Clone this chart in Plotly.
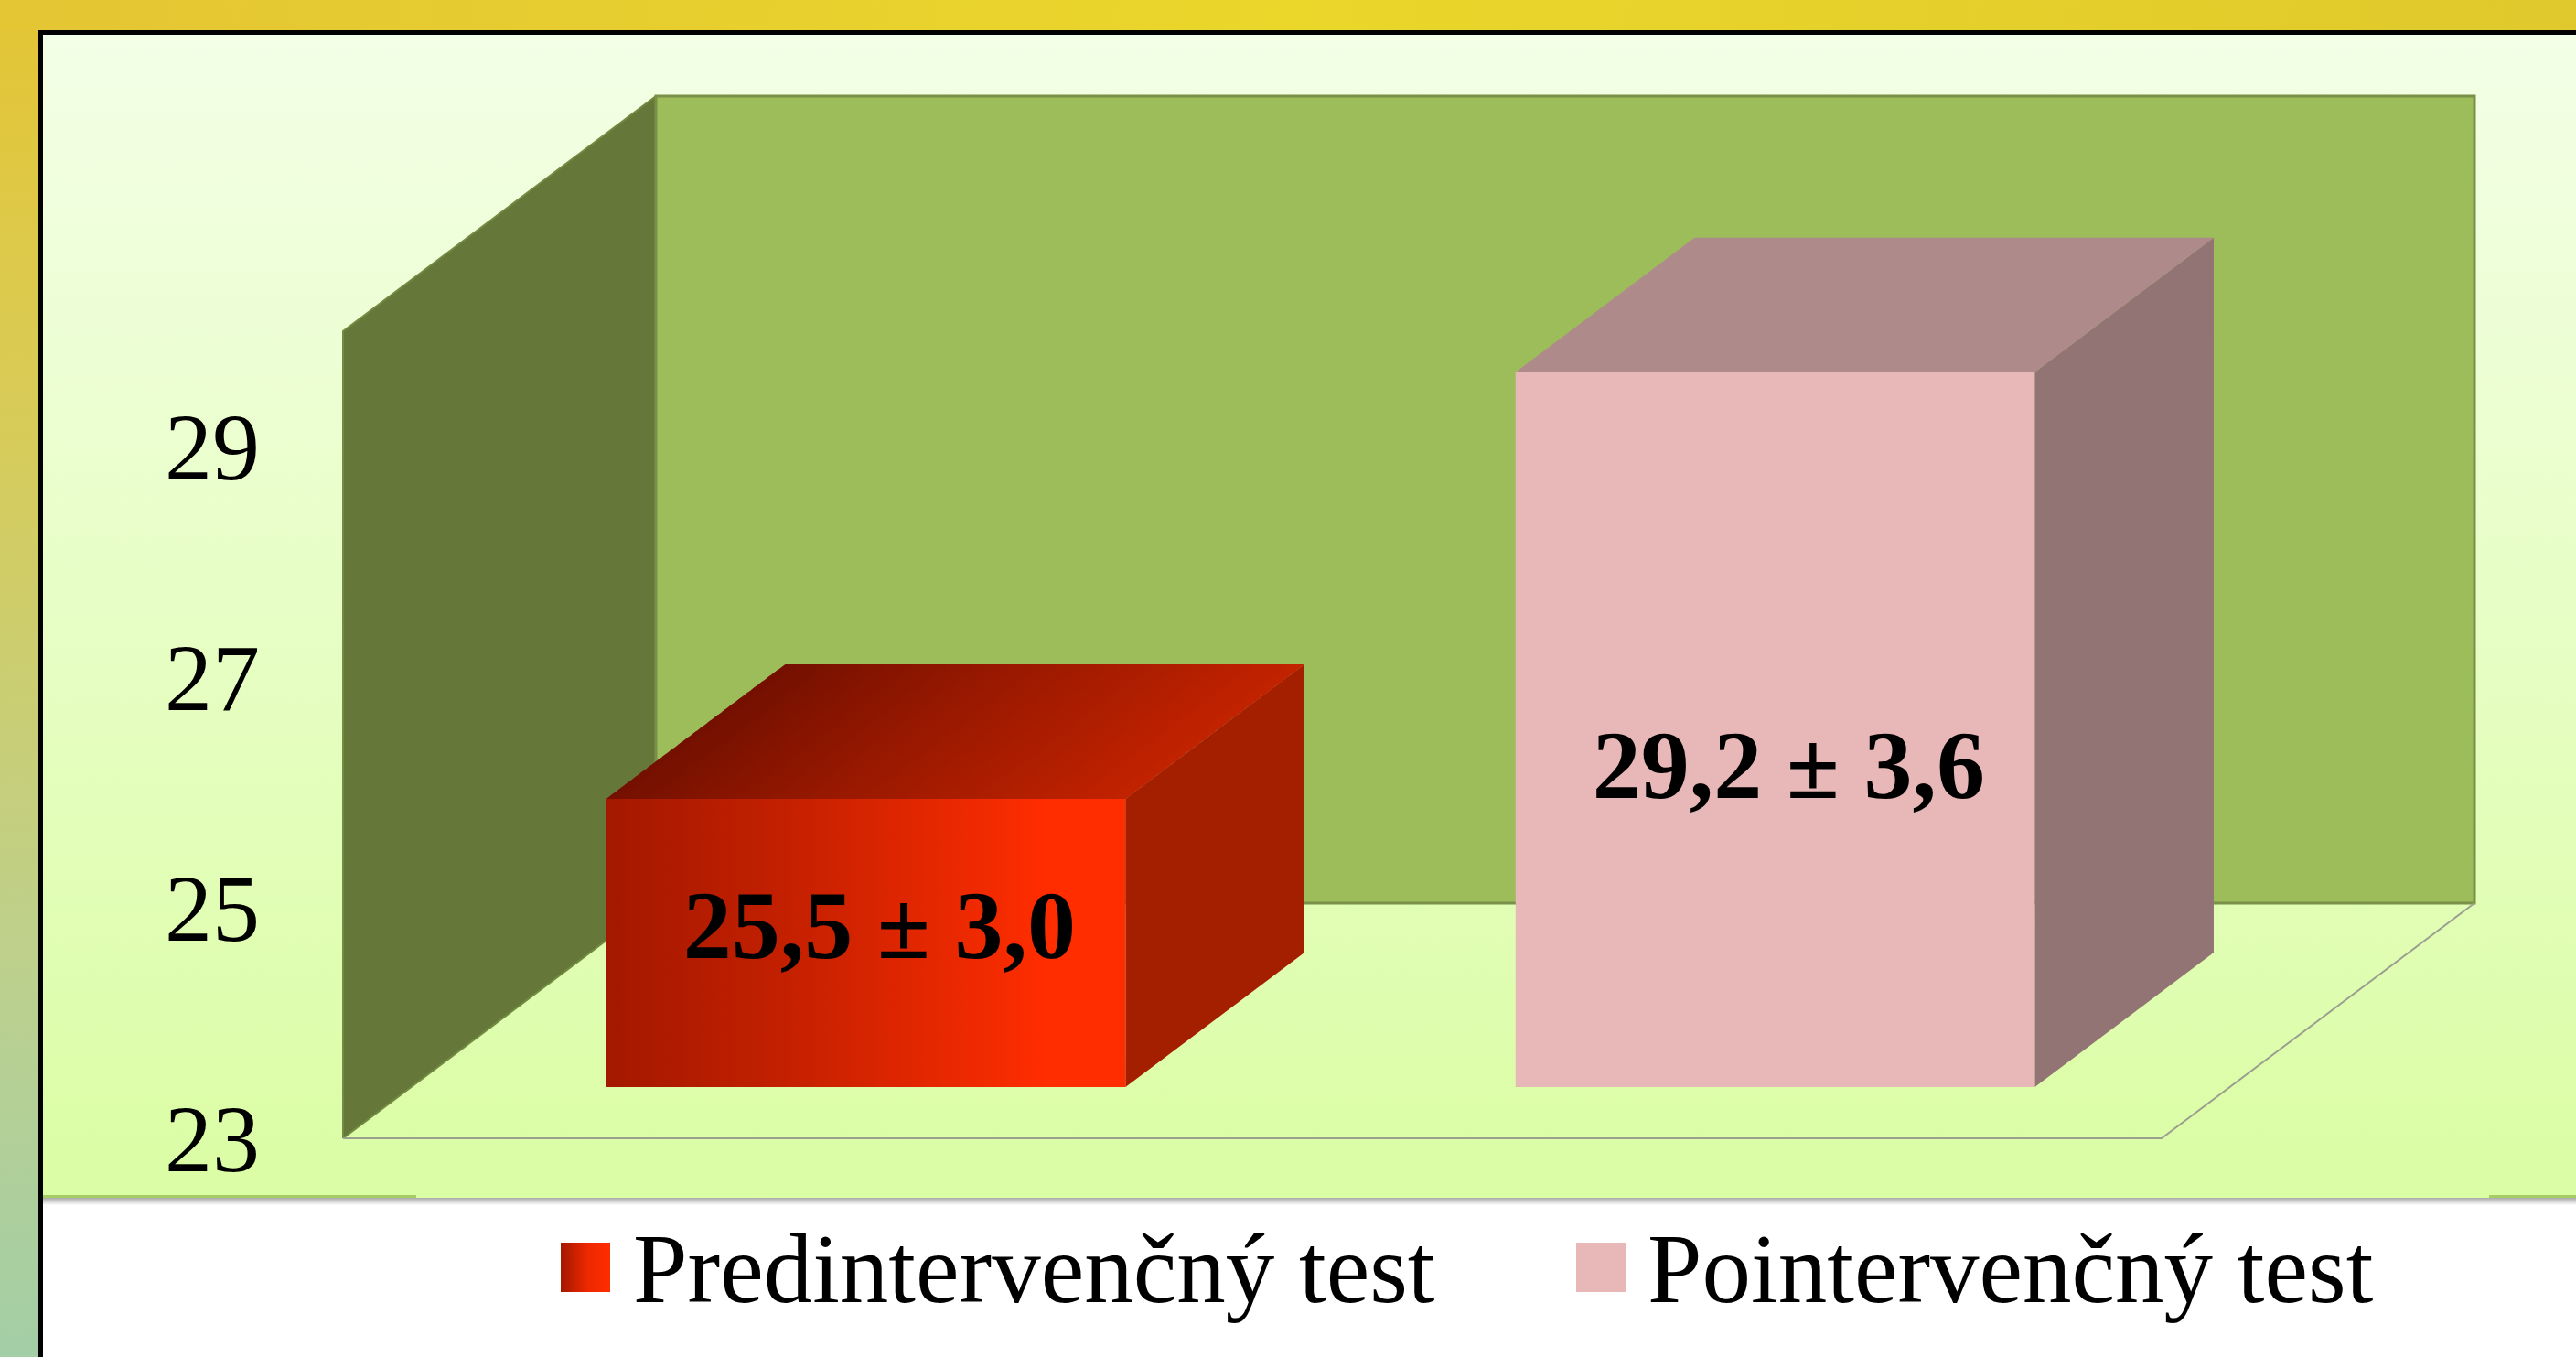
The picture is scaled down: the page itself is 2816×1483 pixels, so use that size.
import plotly.graph_objects as go

# ---- data ----
series_names = ["Predintervenčný test", "Pointervenčný test"]
values = [25.5, 29.2]
value_labels = ["25,5 ± 3,0", "29,2 ± 3,6"]
label_levels = [24.77, 26.16]
tick_values = [23, 25, 27, 29]
tick_labels = ["23", "25", "27", "29"]
axis_min = 23
axis_max = 30

# ---- oblique projection of the 3-D box chart ----
W, H = 2816, 1483
SLOT_PX, UNIT_PX = 994.0, 126.0
X0_PX, Y0_PX = 375, 1244          # where (category edge, axis_min) falls
DX, DY = 342 / SLOT_PX, 257 / UNIT_PX
BAR_W = 0.571
D_NEAR, D_FAR = 0.218, 0.79
SERIF = "Liberation Serif"

x_lo = -0.5 - X0_PX / SLOT_PX
x_hi = x_lo + W / SLOT_PX
y_hi = axis_min + Y0_PX / UNIT_PX
y_lo = y_hi - H / UNIT_PX


def proj(x, v, d):
    return x + d * DX, v + d * DY


fig = go.Figure()


def deco(xs, ys, color=None, grad=None):
    kw = dict(x=xs, y=ys, mode="lines", line=dict(width=0), fill="toself",
              hoverinfo="skip", showlegend=False, xaxis="x", yaxis="y")
    if grad:
        kw["fillgradient"] = grad
    else:
        kw["fillcolor"] = color
    fig.add_trace(go.Scatter(**kw))


def rect(x0, y0, x1, y1, color=None, grad=None):
    deco([x0, x1, x1, x0, x0], [y0, y0, y1, y1, y0], color, grad)


def face(pts, color=None, grad=None, edge=None, edge_w=0):
    xs = [p[0] for p in pts] + [pts[0][0]]
    ys = [p[1] for p in pts] + [pts[0][1]]
    kw = dict(x=xs, y=ys, mode="lines", fill="toself", hoverinfo="skip",
              showlegend=False, xaxis="x2", yaxis="y2",
              line=dict(width=edge_w, color=edge or "rgba(0,0,0,0)"))
    if grad:
        kw["fillgradient"] = grad
    else:
        kw["fillcolor"] = color
    fig.add_trace(go.Scatter(**kw))


# page frame and panels
rect(0, 0, W, H, "#ffffff")
rect(0, 0, 42, H, grad=dict(type="vertical", start=0, stop=H, colorscale=[
    [0, "#e4c534"], [0.28, "#d9cb55"], [0.72, "#bcd08e"], [1, "#a3cea6"]]))
rect(0, 0, W, 33, grad=dict(type="horizontal", start=0, stop=W, colorscale=[
    [0, "#e4c534"], [0.5, "#ead72a"], [1, "#dfc92c"]]))
rect(42, 33, W, 38, "#000000")
rect(42, 33, 47, H, "#000000")
rect(47, 38, W, 1309, grad=dict(type="vertical", start=38, stop=1309, colorscale=[
    [0, "#f3ffe6"], [1, "#dbfda4"]]))
rect(47, 1309, W, 1317, grad=dict(type="vertical", start=1309, stop=1317, colorscale=[
    [0, "#a9a9a9"], [1, "#ffffff"]]))
rect(47, 1306, 455, 1309, "#a6cc64")
rect(2721, 1306, W, 1309, "#a6cc64")

# chart walls and floor
n = len(values)
L, R = -0.5, n - 0.5
TOP = axis_max
BASE = axis_min
face([proj(L, BASE, 0), proj(L, TOP, 0), proj(L, TOP, 1), proj(L, BASE, 1)],
     "#667839", edge="#738a42", edge_w=2)
face([proj(L, BASE, 1), proj(L, TOP, 1), proj(R, TOP, 1), proj(R, BASE, 1)],
     "#9dbc5a", edge="#7a9048", edge_w=3)
fx = [proj(L, BASE, 0)[0], proj(R, BASE, 0)[0], proj(R, BASE, 1)[0]]
fy = [proj(L, BASE, 0)[1], proj(R, BASE, 0)[1], proj(R, BASE, 1)[1]]
fig.add_trace(go.Scatter(x=fx, y=fy, mode="lines", hoverinfo="skip", showlegend=False,
                         line=dict(color="#9a9f90", width=2), xaxis="x2", yaxis="y2"))

# bars
front_scales = [
    [[0, "#a31800"], [0.35, "#c42000"], [0.85, "#ff2d00"], [1, "#ff2d00"]],
    None,
]
top_scales = [
    [[0, "#741000"], [0.4, "#961800"], [1, "#c22200"]],
    None,
]
solid = [("#a31f00", "#a31f00", "#a31f00"), ("#e8b8b8", "#ae8b8a", "#927474")]
STRIPS = 24
for i, v in enumerate(values):
    xl, xr = i - BAR_W / 2, i + BAR_W / 2
    front = [proj(xl, BASE, D_NEAR), proj(xl, v, D_NEAR), proj(xr, v, D_NEAR), proj(xr, BASE, D_NEAR)]
    top = [proj(xl, v, D_NEAR), proj(xl, v, D_FAR), proj(xr, v, D_FAR), proj(xr, v, D_NEAR)]
    side = [proj(xr, BASE, D_NEAR), proj(xr, v, D_NEAR), proj(xr, v, D_FAR), proj(xr, BASE, D_FAR)]
    f_c, t_c, s_c = solid[i]
    face(side, s_c)
    if top_scales[i]:
        # the top shading follows the slant of the box: stack thin strips, far to near
        step = (D_FAR - D_NEAR) / STRIPS
        for k in range(STRIPS):
            d1 = D_FAR - k * step
            d0 = max(D_NEAR, d1 - 1.5 * step)
            mid = d1 - step / 2
            face([proj(xl, v, d0), proj(xl, v, d1), proj(xr, v, d1), proj(xr, v, d0)],
                 grad=dict(type="horizontal", colorscale=top_scales[i],
                           start=proj(xl, v, mid)[0], stop=proj(xr, v, mid)[0]))
    else:
        face(top, t_c)
    if front_scales[i]:
        face(front, grad=dict(type="horizontal", colorscale=front_scales[i]))
    else:
        face(front, f_c)

# value labels
fig.add_trace(go.Scatter(
    x=[i + 0.09 for i in range(n)], y=label_levels, text=value_labels, mode="text",
    textposition="middle center", hoverinfo="skip", showlegend=False,
    textfont=dict(family=SERIF, size=106, color="#000000"), texttemplate="<b>%{text}</b>",
    xaxis="x2", yaxis="y2"))

# legend
swatch_x = [613, 1723]
swatch_w = 54
text_x = [692, 1801]
rect(swatch_x[0], 1358, swatch_x[0] + swatch_w, 1412, grad=dict(
    type="horizontal", colorscale=[[0, "#a31800"], [0.55, "#ee2800"], [1, "#ff2d00"]]))
rect(swatch_x[1], 1358, swatch_x[1] + swatch_w, 1412, "#e8b8b8")
fig.add_trace(go.Scatter(
    x=text_x, y=[1396, 1396], text=series_names, mode="text", textposition="middle right",
    hoverinfo="skip", showlegend=False, cliponaxis=False,
    textfont=dict(family=SERIF, size=107, color="#000000"), xaxis="x", yaxis="y"))

hidden = dict(visible=False, showgrid=False, zeroline=False, fixedrange=True)
fig.update_layout(
    width=W, height=H, autosize=False, margin=dict(l=0, r=0, t=0, b=0),
    paper_bgcolor="#ffffff", plot_bgcolor="rgba(0,0,0,0)", showlegend=False,
    xaxis=dict(domain=[0, 1], range=[0, W], **hidden),
    yaxis=dict(domain=[0, 1], range=[H, 0], **hidden),
    xaxis2=dict(domain=[0, 1], range=[x_lo, x_hi], overlaying="x", anchor="y2", **hidden),
    yaxis2=dict(domain=[0, 1], range=[y_lo, y_hi], overlaying="y", anchor="free",
                position=284 / W, side="left", showgrid=False, zeroline=False, showline=False,
                ticks="", tickvals=tick_values, ticktext=tick_labels, fixedrange=True,
                tickfont=dict(family=SERIF, size=104, color="#000000")),
)
fig.write_html("out.html", config=dict(displayModeBar=False),
               post_script="document.documentElement.style.overflow='hidden';document.body.style.margin='0';")
